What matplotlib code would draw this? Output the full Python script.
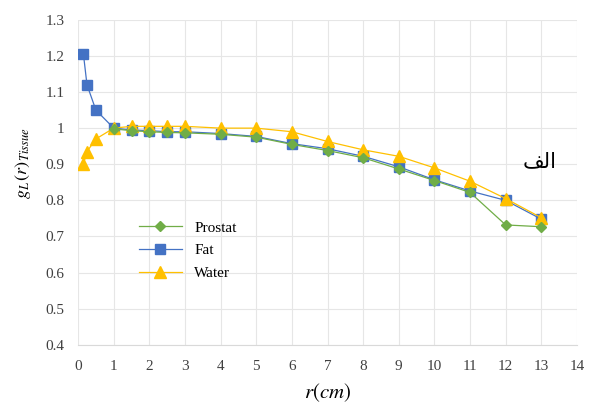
import matplotlib.pyplot as plt

# Data
r_fat = [0.15, 0.25, 0.5, 1, 1.5, 2, 2.5, 3, 4, 5, 6, 7, 8, 9, 10, 11, 12, 13]
g_fat = [1.205, 1.12, 1.05, 1.0, 0.995, 0.993, 0.99, 0.99, 0.985, 0.977, 0.957, 0.943, 0.922, 0.893, 0.857, 0.826, 0.800, 0.748]

r_water = [0.15, 0.25, 0.5, 1, 1.5, 2, 2.5, 3, 4, 5, 6, 7, 8, 9, 10, 11, 12, 13]
g_water = [0.90, 0.935, 0.97, 1.0, 1.005, 1.005, 1.005, 1.005, 1.0, 1.0, 0.99, 0.963, 0.94, 0.922, 0.89, 0.853, 0.805, 0.752]

r_prostat = [1, 1.5, 2, 2.5, 3, 4, 5, 6, 7, 8, 9, 10, 11, 12, 13]
g_prostat = [0.998, 0.993, 0.99, 0.988, 0.987, 0.983, 0.975, 0.955, 0.938, 0.918, 0.887, 0.855, 0.822, 0.732, 0.727]

x_ticks = list(range(0, 15))
y_ticks = [0.4, 0.5, 0.6, 0.7, 0.8, 0.9, 1.0, 1.1, 1.2, 1.3]
y_labels = ['0.4', '0.5', '0.6', '0.7', '0.8', '0.9', '1', '1.1', '1.2', '1.3']

plt.rcParams['font.family'] = ['Liberation Serif', 'DejaVu Serif']
plt.rcParams['mathtext.fontset'] = 'stix'

fig = plt.figure(figsize=(5.96, 4.12), dpi=100)
ax = fig.add_axes([0.131, 0.163, 0.837, 0.789])

ax.plot(r_prostat, g_prostat, color='#70AD47', marker='D', markersize=5.5, lw=0.9, label='Prostat', zorder=3)
ax.plot(r_fat, g_fat, color='#4472C4', marker='s', markersize=7.5, lw=0.9, label='Fat', zorder=2)
ax.plot(r_water, g_water, color='#FFC000', marker='^', markersize=8, lw=0.9, label='Water', zorder=2.5)

ax.set_xlim(0, 14)
ax.set_ylim(0.4, 1.3)
ax.set_xticks(x_ticks)
ax.set_yticks(y_ticks)
ax.set_yticklabels(y_labels)
ax.grid(True, color='#E6E6E6', lw=0.8)
ax.set_axisbelow(True)
for s in ['top', 'right', 'left']:
    ax.spines[s].set_visible(False)
ax.spines['bottom'].set_color('#D9D9D9')
ax.tick_params(length=0, labelsize=11, colors='#404040')
ax.tick_params(axis='x', pad=11)
ax.tick_params(axis='y', pad=10)

ax.set_xlabel(r'$r(cm)$', fontsize=15, labelpad=6)
ax.set_ylabel(r'$g_L\,(r)_{Tissue}$', fontsize=13)
ax.yaxis.set_label_coords(-0.09, 0.56)

# Arabic label (pre-shaped presentation forms of "الف")
ax.text(12.95, 0.908, '\ufed2\ufedf\ufe8d', fontsize=15, family=['DejaVu Sans'], ha='center', va='center')

leg = ax.legend(loc='upper left', bbox_to_anchor=(0.11, 0.40), frameon=False,
                fontsize=11, handlelength=2.8, labelspacing=0.6, borderaxespad=0)

fig.savefig('out.png', dpi=100)
